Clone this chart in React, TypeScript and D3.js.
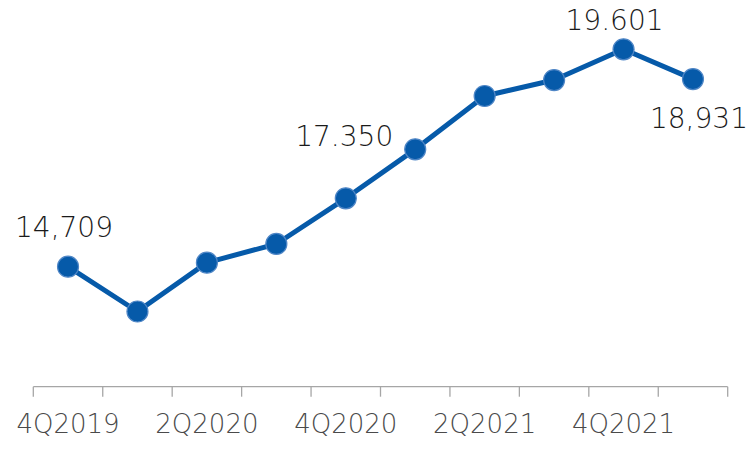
import React from "react";
import * as d3 from "d3";

const categories = ["4Q2019", "1Q2020", "2Q2020", "3Q2020", "4Q2020", "1Q2021", "2Q2021", "3Q2021", "4Q2021", "1Q2022"];
const values = [14.709, 13.7, 14.8, 15.22, 16.248, 17.35, 18.55, 18.91, 19.601, 18.931];
const tickLabels = ["4Q2019", "2Q2020", "4Q2020", "2Q2021", "4Q2021"];
const dataLabels = [
  { index: 0, text: "14,709" },
  { index: 5, text: "17.350" },
  { index: 8, text: "19.601" },
  { index: 9, text: "18,931" },
];

const W = 751;
const H = 449;
const FONT = "'DejaVu Sans', sans-serif";
const BLUE = "#065aa9";

// label offsets (dx, dy relative to point, anchor)
const labelLayout: Record<number, { dx: number; dy: number; anchor: string }> = {
  0: { dx: -4, dy: -30, anchor: "middle" },
  5: { dx: -22, dy: -3, anchor: "end" },
  8: { dx: -9, dy: -19, anchor: "middle" },
  9: { dx: 6, dy: 49, anchor: "middle" },
};

export default function App() {
  const x = d3.scaleBand<string>().domain(categories).range([33.3, 727.7]).padding(0);
  const y = d3.scaleLinear().domain([13, 20]).range([342.6, 31.6]);
  const cx = (c: string) => (x(c) as number) + x.bandwidth() / 2;
  const pts = categories.map((c, i) => [cx(c), y(values[i])] as [number, number]);
  const line = d3.line<[number, number]>().x((d) => d[0]).y((d) => d[1])(pts) as string;
  const axisY = 386.7;
  const tickXs = [...categories.map((c) => x(c) as number), x.range()[1]];

  return (
    <svg width={W} height={H} style={{ position: "absolute", left: 0, top: 0, background: "#fff" }}>
      <g>
        <line x1={tickXs[0]} x2={tickXs[tickXs.length - 1]} y1={axisY} y2={axisY} stroke="#a6a6a6" strokeWidth={1.3} />
        {tickXs.map((t, i) => (
          <line key={i} x1={t} x2={t} y1={axisY} y2={axisY + 10} stroke="#a6a6a6" strokeWidth={1.3} />
        ))}
        {tickLabels.map((lab) => (
          <text key={lab} x={cx(lab)} y={433.3} textAnchor="middle" fontFamily={FONT} fontWeight={200} fontSize={26} fill="#4a4a4a">
            {lab}
          </text>
        ))}
      </g>
      <path d={line} fill="none" stroke={BLUE} strokeWidth={5} strokeLinejoin="round" />
      {pts.map((p, i) => (
        <circle key={i} cx={p[0]} cy={p[1]} r={10.5} fill={BLUE} stroke="#4f86c6" strokeWidth={1.2} />
      ))}
      {dataLabels.map((d) => {
        const p = pts[d.index];
        const l = labelLayout[d.index];
        return (
          <text key={d.index} x={p[0] + l.dx} y={p[1] + l.dy} textAnchor={l.anchor} fontFamily={FONT} fontWeight={200} fontSize={28} fill="#1a1a1a">
            {d.text}
          </text>
        );
      })}
    </svg>
  );
}
